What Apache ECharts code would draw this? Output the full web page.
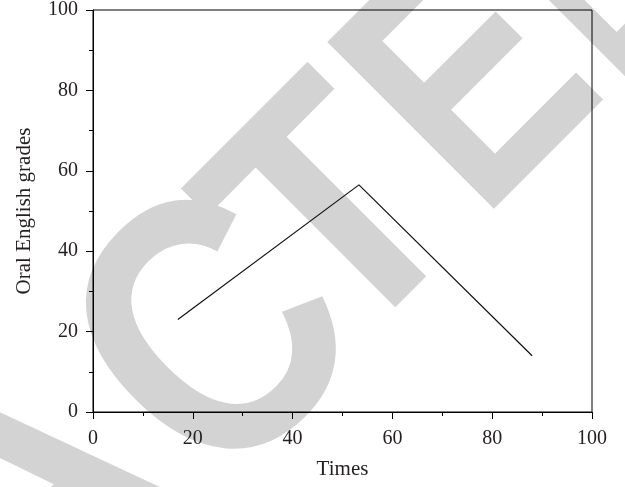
<!DOCTYPE html>
<html>
<head>
<meta charset="utf-8">
<script src="https://cdn.jsdelivr.net/npm/echarts@6/dist/echarts.min.js"></script>
<style>
  html, body { margin: 0; padding: 0; background: #ffffff; }
  #chart { width: 625px; height: 487px; }
</style>
</head>
<body>
<div id="chart"></div>
<script>
// Data
const timesValues = [17, 53.3, 88];
const gradeValues = [23, 56.5, 14];
const xTicks = [0, 20, 40, 60, 80, 100];
const yTicks = [0, 20, 40, 60, 80, 100];
const xAxisName = 'Times';
const yAxisName = 'Oral English grades';
const watermarkLetters = ['A', 'C', 'T', 'E', 'D'];

const points = timesValues.map((t, i) => [t, gradeValues[i]]);

const serif = '"Liberation Serif", "Times New Roman", serif';
const textColor = '#231f20';

// Watermark placement (decoration only): x, y, font size, scaleX, scaleY
const wmStyle = [
  [32, 510, 340, 1, 1],
  [225, 347, 320, 0.98, 1.16],
  [344, 225, 320, 0.95, 1.07],
  [479, 90, 320, 0.86, 1.07],
  [595.5, -26.5, 320, 0.55, 1.07]
];
const graphics = watermarkLetters.map((ch, i) => ({
  type: 'text',
  x: wmStyle[i][0],
  y: wmStyle[i][1],
  rotation: Math.PI / 4,
  scaleX: wmStyle[i][3],
  scaleY: wmStyle[i][4],
  z: -10,
  silent: true,
  style: {
    text: ch,
    font: 'bold ' + wmStyle[i][2] + 'px "Liberation Sans", Arial, sans-serif',
    fill: '#d3d3d3',
    textAlign: 'center',
    textVerticalAlign: 'middle',
    align: 'center',
    verticalAlign: 'middle'
  }
}));

const chart = echarts.init(document.getElementById('chart'), null, { renderer: 'canvas' });
chart.setOption({
  animation: false,
  backgroundColor: '#ffffff',
  graphic: { elements: graphics },
  grid: {
    left: 93, right: 33, top: 10, bottom: 75,
    show: true, borderColor: '#000', borderWidth: 1, backgroundColor: 'transparent'
  },
  xAxis: {
    type: 'value',
    min: xTicks[0], max: xTicks[xTicks.length - 1], interval: 20,
    name: xAxisName, nameLocation: 'middle', nameGap: 47,
    nameTextStyle: { fontFamily: serif, fontSize: 21, color: textColor },
    axisLine: { show: true, onZero: false, lineStyle: { color: '#000', width: 1 } },
    axisTick: { show: true, inside: false, length: 7, lineStyle: { color: '#000', width: 1 } },
    minorTick: { show: true, splitNumber: 2, length: 4, lineStyle: { color: '#000', width: 1 } },
    splitLine: { show: false },
    axisLabel: { fontFamily: serif, fontSize: 20, color: textColor, margin: 17 }
  },
  yAxis: {
    type: 'value',
    min: yTicks[0], max: yTicks[yTicks.length - 1], interval: 20,
    name: yAxisName, nameLocation: 'middle', nameGap: 58,
    nameTextStyle: { fontFamily: serif, fontSize: 21, color: textColor },
    axisLine: { show: true, onZero: false, lineStyle: { color: '#000', width: 1 } },
    axisTick: { show: true, inside: false, length: 7, lineStyle: { color: '#000', width: 1 } },
    minorTick: { show: true, splitNumber: 2, length: 4, lineStyle: { color: '#000', width: 1 } },
    splitLine: { show: false },
    axisLabel: { fontFamily: serif, fontSize: 20, color: textColor, margin: 15 }
  },
  series: [{
    type: 'line',
    data: points,
    showSymbol: false,
    symbol: 'none',
    lineStyle: { color: '#111', width: 1.2 },
    z: 5
  }]
});
</script>
</body>
</html>
